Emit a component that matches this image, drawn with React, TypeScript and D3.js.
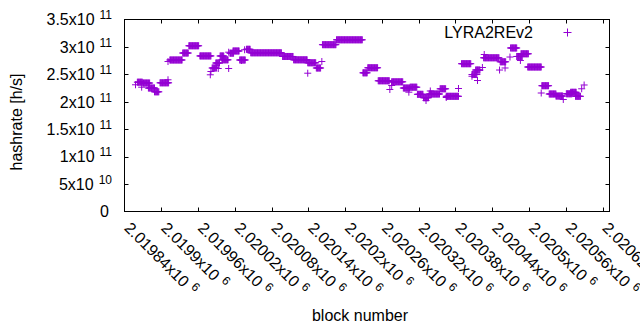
import React from 'react';
import * as d3 from 'd3';

// Runs of consecutive blocks sharing one hashrate estimate (single points have start === end)
const runStart = [
  2019858, 2019861, 2019868, 2019870, 2019879, 2019889, 2019898, 2019911, 2019911, 2019914,
  2019935, 2019945, 2019963, 2019980, 2019981, 2019983, 2019989, 2019993, 2019996, 2019999,
  2020010, 2020010, 2020012, 2020017, 2020031, 2020028, 2020036, 2020039, 2020046, 2020098,
  2020116, 2020139, 2020139, 2020153, 2020162, 2020163, 2020186, 2020229, 2020237, 2020254,
  2020273, 2020276, 2020276, 2020295, 2020306, 2020304, 2020318, 2020328, 2020332, 2020339,
  2020337, 2020355, 2020365, 2020365, 2020385, 2020390, 2020407, 2020407, 2020413, 2020416,
  2020424, 2020427, 2020426, 2020452, 2020453, 2020461, 2020469, 2020470, 2020480, 2020486,
  2020487, 2020498, 2020520, 2020521, 2020533, 2020544, 2020556, 2020561, 2020568, 2020576,
  2020586, 2020590,
];
const runEnd = [
  2019858, 2019869, 2019868, 2019881, 2019889, 2019896, 2019912, 2019911, 2019911, 2019934,
  2019944, 2019961, 2019981, 2019980, 2019981, 2019990, 2019995, 2019993, 2020002, 2020009,
  2020010, 2020010, 2020018, 2020027, 2020031, 2020037, 2020036, 2020045, 2020096, 2020115,
  2020138, 2020152, 2020139, 2020160, 2020162, 2020185, 2020228, 2020236, 2020253, 2020272,
  2020273, 2020276, 2020294, 2020305, 2020317, 2020304, 2020327, 2020336, 2020332, 2020339,
  2020354, 2020364, 2020365, 2020385, 2020385, 2020405, 2020407, 2020415, 2020420, 2020416,
  2020424, 2020427, 2020451, 2020452, 2020462, 2020461, 2020469, 2020480, 2020489, 2020486,
  2020499, 2020520, 2020520, 2020532, 2020544, 2020555, 2020556, 2020570, 2020577, 2020584,
  2020586, 2020590,
];
const runHashrate = [
  2.310e11, 2.357e11, 2.266e11, 2.342e11, 2.251e11, 2.182e11, 2.346e11, 2.401e11, 2.734e11, 2.762e11,
  2.889e11, 3.021e11, 2.836e11, 2.492e11, 2.552e11, 2.616e11, 2.707e11, 2.607e11, 2.835e11, 2.765e11,
  2.607e11, 2.904e11, 2.886e11, 2.926e11, 2.753e11, 2.762e11, 2.948e11, 2.957e11, 2.893e11, 2.826e11,
  2.765e11, 2.711e11, 2.521e11, 2.616e11, 2.734e11, 3.041e11, 3.130e11, 2.528e11, 2.620e11, 2.383e11,
  2.224e11, 2.297e11, 2.364e11, 2.251e11, 2.266e11, 2.175e11, 2.136e11, 2.074e11, 2.023e11, 2.197e11,
  2.142e11, 2.237e11, 2.078e11, 2.100e11, 2.242e11, 2.694e11, 2.465e11, 2.497e11, 2.579e11, 2.388e11,
  2.625e11, 2.862e11, 2.802e11, 2.579e11, 2.729e11, 2.616e11, 2.816e11, 2.981e11, 2.826e11, 2.753e11,
  2.875e11, 2.634e11, 2.160e11, 2.293e11, 2.142e11, 2.105e11, 2.042e11, 2.146e11, 2.173e11, 2.100e11,
  2.237e11, 2.306e11,
];

const xTicks = [
  2019840, 2019900, 2019960, 2020020, 2020080, 2020140, 2020200,
  2020260, 2020320, 2020380, 2020440, 2020500, 2020560, 2020620,
];
const xTickMantissa = [
  '2.01984', '2.0199', '2.01996', '2.02002', '2.02008', '2.02014', '2.0202',
  '2.02026', '2.02032', '2.02038', '2.02044', '2.0205', '2.02056', '2.02062',
];
const xTickExp = '6';

const yTicks = [0, 5e10, 1e11, 1.5e11, 2e11, 2.5e11, 3e11, 3.5e11];
const yTickMantissa = ['0', '5', '1', '1.5', '2', '2.5', '3', '3.5'];
const yTickExp = ['', '10', '11', '11', '11', '11', '11', '11'];

const seriesName = 'LYRA2REv2';
const xLabel = 'block number';
const yLabel = 'hashrate [h/s]';

const COLOR = '#9400d3';
const FONT = '"Liberation Sans", Arial, sans-serif';

export default function App() {
  const L = 124.5, R = 609.5, T = 19.5, B = 211.5;
  const x = d3.scaleLinear().domain([2019840, 2020631.4]).range([L, R]);
  const y = d3.scaleLinear().domain([0, 3.5e11]).range([B, T]);
  const h = 3.5;

  const path = d3.path();
  runStart.forEach((s, i) => {
    const e = runEnd[i];
    const py = y(runHashrate[i]);
    for (let b = s; b <= e; b++) {
      const px = x(b);
      path.moveTo(px - h, py);
      path.lineTo(px + h, py);
      path.moveTo(px, py - h);
      path.lineTo(px, py + h);
    }
  });

  const tickLen = 4;
  const FS = 16;
  const SUP = 12;

  return (
    <svg
      width={640}
      height={330}
      style={{ position: 'absolute', left: 0, top: 0, background: '#fff' }}
      fontFamily={FONT}
    >
      <rect x={0} y={0} width={640} height={330} fill="#fff" />
      {/* ticks */}
      {yTicks.map((t, i) => (
        <g key={'yt' + i}>
          {i > 0 && i < yTicks.length - 1 && (
            <>
              <line x1={L} x2={L + tickLen} y1={Math.round(y(t)) + 0.5} y2={Math.round(y(t)) + 0.5} stroke="#000" />
              <line x1={R} x2={R - tickLen} y1={Math.round(y(t)) + 0.5} y2={Math.round(y(t)) + 0.5} stroke="#000" />
            </>
          )}
          <text
            x={t === 0 ? 109 : 112}
            y={y(t)}
            dy="0.36em"
            textAnchor="end"
            fontSize={FS}
            fill="#000"
          >
            {yTickExp[i] ? yTickMantissa[i] + 'x10' : yTickMantissa[i]}
            {yTickExp[i] && (
              <tspan fontSize={SUP} dx={5} dy={-6}>
                {yTickExp[i]}
              </tspan>
            )}
          </text>
        </g>
      ))}
      {xTicks.map((t, i) => (
        <g key={'xt' + i}>
          {i > 0 && (
            <>
              <line x1={Math.round(x(t)) + 0.5} x2={Math.round(x(t)) + 0.5} y1={B} y2={B - tickLen} stroke="#000" />
              <line x1={Math.round(x(t)) + 0.5} x2={Math.round(x(t)) + 0.5} y1={T} y2={T + tickLen} stroke="#000" />
            </>
          )}
          <text
            transform={`translate(${x(t) - 1},${229}) rotate(45)`}
            textAnchor="start"
            fontSize={FS}
            fill="#000"
          >
            {xTickMantissa[i] + 'x10'}
            <tspan fontSize={SUP} dx={5} dy={-6}>
              {xTickExp}
            </tspan>
          </text>
        </g>
      ))}
      {/* border */}
      <rect x={L} y={T} width={R - L} height={B - T} fill="none" stroke="#000" strokeWidth={1} />
      {/* data */}
      <path d={path.toString()} stroke={COLOR} strokeWidth={1} fill="none" />
      {/* legend */}
      <text x={533} y={37.5} textAnchor="end" fontSize={FS} fill="#000">
        {seriesName}
      </text>
      <path
        d={`M${567.5 - 4},32.5H${567.5 + 4}M567.5,${32.5 - 4}V${32.5 + 4}`}
        stroke={COLOR}
        strokeWidth={1}
      />
      {/* axis labels */}
      <text x={360} y={321} textAnchor="middle" fontSize={FS} fill="#000">
        {xLabel}
      </text>
      <text
        transform={`translate(22,${122}) rotate(-90)`}
        textAnchor="middle"
        fontSize={FS}
        fill="#000"
      >
        {yLabel}
      </text>
    </svg>
  );
}
